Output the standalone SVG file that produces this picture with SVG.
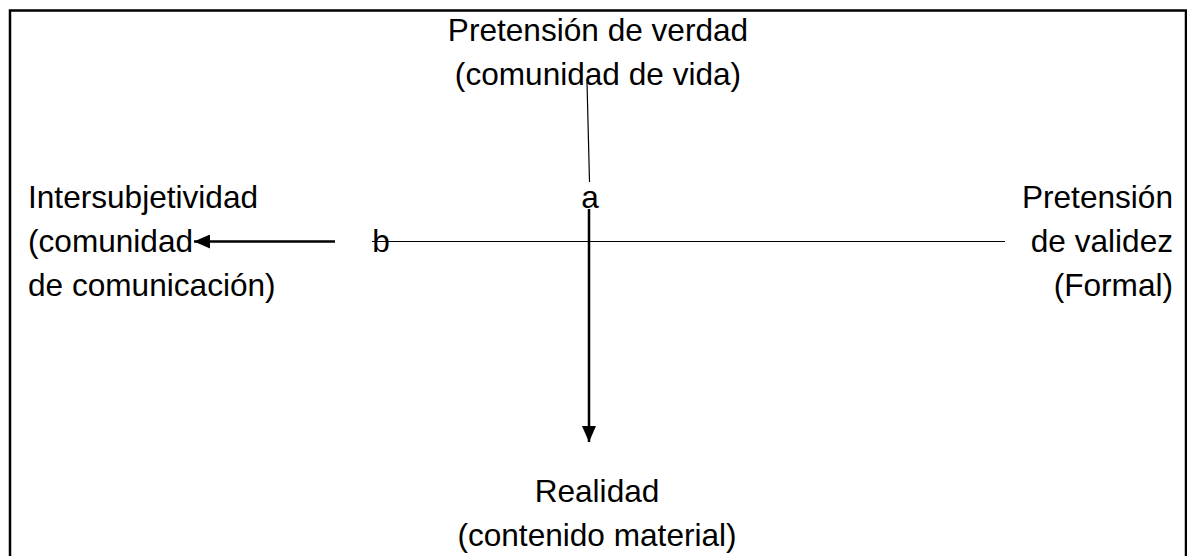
<svg xmlns="http://www.w3.org/2000/svg" width="1187" height="556" viewBox="0 0 1187 556">
<style>
  .t { font-family: "Liberation Sans", Arial, sans-serif; font-size: 31.6px; fill: #000; }
  .c { text-anchor: middle; }
  .r { text-anchor: end; }
  .thin { stroke: #000; stroke-width: 1.2; fill: none; }
  .thick { stroke: #000; stroke-width: 2.5; fill: none; }
</style>
<defs>
  <marker id="ah" markerWidth="17" markerHeight="14" refX="16" refY="7" orient="auto" markerUnits="userSpaceOnUse">
    <path d="M0,0 L16,7 L0,14 Z" fill="#000"/>
  </marker>
</defs>
<rect width="1187" height="556" fill="#fff"/>
<path d="M10,560 V10.5 H1186 V560" fill="none" stroke="#000" stroke-width="2.5"/>
<g id="connectors">
  <line class="thin" x1="587" y1="82" x2="589.5" y2="182"/>
  <line class="thin" x1="372" y1="241.5" x2="1005" y2="241.5"/>
  <line class="thick" x1="589" y1="209" x2="589" y2="442" marker-end="url(#ah)"/>
  <line class="thick" x1="335" y1="241.5" x2="194" y2="241.5" marker-end="url(#ah)"/>
</g>
<g id="top">
  <text class="t c" x="598" y="41">Pretensión de verdad</text>
  <text class="t c" x="598" y="85">(comunidad de vida)</text>
</g>
<g id="left">
  <text class="t" x="28" y="208">Intersubjetividad</text>
  <text class="t" x="28" y="252">(comunidad</text>
  <text class="t" x="28" y="296">de comunicación)</text>
</g>
<g id="right">
  <text class="t r" x="1173" y="208">Pretensión</text>
  <text class="t r" x="1173" y="252">de validez</text>
  <text class="t r" x="1173" y="296">(Formal)</text>
</g>
<g id="bottom">
  <text class="t c" x="597" y="502">Realidad</text>
  <text class="t c" x="597" y="546">(contenido material)</text>
</g>
<g id="label-a">
  <text class="t c" x="590" y="208">a</text>
</g>
<g id="label-b">
  <text class="t c" x="381" y="252">b</text>
</g>
</svg>
